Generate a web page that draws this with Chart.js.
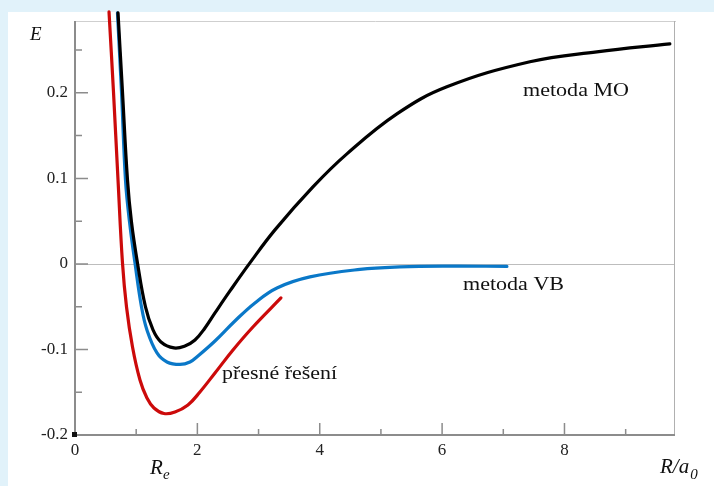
<!DOCTYPE html>
<html>
<head>
<meta charset="utf-8">
<script src="https://cdn.jsdelivr.net/npm/chart.js@4/dist/chart.umd.min.js"></script>
<style>
  html, body { margin: 0; padding: 0; background: #e1f2fa; }
  #wrap { position: absolute; left: 0; top: 0; width: 714px; height: 486px; }
</style>
</head>
<body>
<div id="wrap"><canvas id="c" width="714" height="486"></canvas></div>
<script>
// ---- data (R in a0, E in hartree) ----
const moR = [0.703, 0.776, 0.858, 0.923, 1.021, 1.152, 1.275, 1.405, 1.618, 1.797, 1.961, 2.124, 2.288, 2.533, 2.859, 3.268, 3.889, 4.444, 5.261, 6.078, 7.435, 8.529, 9.722];
const moE = [0.2936, 0.2012, 0.0982, 0.0491, 0.0012, -0.0503, -0.0772, -0.0912, -0.0982, -0.0959, -0.0889, -0.0749, -0.0573, -0.0316, 0.0012, 0.0398, 0.0901, 0.1287, 0.1754, 0.2070, 0.2363, 0.2480, 0.2573];

const vbR = [0.694, 0.760, 0.825, 0.891, 0.980, 1.087, 1.176, 1.340, 1.503, 1.716, 1.879, 2.010, 2.288, 2.614, 2.941, 3.301, 3.840, 4.657, 5.310, 6.127, 7.059];
const vbE = [0.2936, 0.2012, 0.0982, 0.0491, 0.0012, -0.0503, -0.0772, -0.1041, -0.1146, -0.1175, -0.1146, -0.1076, -0.0901, -0.0667, -0.0456, -0.0281, -0.0152, -0.0064, -0.0035, -0.0026, -0.0029];

const exR = [0.556, 0.629, 0.703, 0.776, 0.842, 0.940, 1.062, 1.176, 1.291, 1.454, 1.634, 1.846, 2.042, 2.288, 2.582, 2.908, 3.366];
const exE = [0.2947, 0.2012, 0.0982, 0.0012, -0.0503, -0.0971, -0.1357, -0.1567, -0.1684, -0.1749, -0.1731, -0.1649, -0.1497, -0.1275, -0.1006, -0.0737, -0.0398];

const xMajorTicks = [2, 4, 6, 8];
const xMinorTicks = [1, 3, 5, 7, 9];
const yMajorTicks = [0.2, 0.1, 0, -0.1];
const yMinorTicks = [0.25, 0.15, 0.05, -0.05, -0.15];

const labelMO = 'metoda MO';
const labelVB = 'metoda VB';
const labelEx = 'přesné řešení';

const toPts = (xs, ys) => xs.map((x, i) => ({ x: x, y: ys[i] }));
const SERIF = "'Liberation Serif', 'Times New Roman', 'DejaVu Serif', serif";

function stretchedText(ctx, txt, x, y, targetW) {
  const w = ctx.measureText(txt).width;
  ctx.save();
  ctx.translate(x, y);
  ctx.scale(targetW / w, 1);
  ctx.fillText(txt, 0, 0);
  ctx.restore();
}

const decor = {
  id: 'decor',
  beforeDraw(chart) {
    const ctx = chart.ctx;
    ctx.save();
    ctx.fillStyle = '#e1f2fa';
    ctx.fillRect(0, 0, 714, 486);
    ctx.fillStyle = '#ffffff';
    ctx.fillRect(8, 12, 706, 474);
    ctx.restore();
  },
  beforeDatasetsDraw(chart) {
    const ctx = chart.ctx;
    const a = chart.chartArea;
    const xs = chart.scales.x, ys = chart.scales.y;
    ctx.save();
    ctx.strokeStyle = '#cfcfcf';
    ctx.lineWidth = 1;
    ctx.beginPath();
    ctx.moveTo(a.left, a.top + 0.5); ctx.lineTo(a.right + 2, a.top + 0.5);
    ctx.stroke();
    ctx.strokeStyle = '#b0b0b0';
    ctx.beginPath();
    ctx.moveTo(a.right + 0.5, a.top); ctx.lineTo(a.right + 0.5, a.bottom);
    ctx.stroke();
    const y0 = Math.round(ys.getPixelForValue(0)) + 0.5;
    ctx.strokeStyle = '#bdbdbd';
    ctx.beginPath();
    ctx.moveTo(a.left, y0); ctx.lineTo(a.right, y0);
    ctx.stroke();
    ctx.strokeStyle = '#8c8c8c';
    ctx.lineWidth = 2;
    ctx.beginPath();
    ctx.moveTo(a.left, a.top); ctx.lineTo(a.left, a.bottom);
    ctx.moveTo(a.left, a.bottom); ctx.lineTo(a.right + 1, a.bottom);
    ctx.stroke();
    ctx.lineWidth = 1.5;
    ctx.beginPath();
    yMajorTicks.forEach(v => { const p = ys.getPixelForValue(v); ctx.moveTo(a.left, p); ctx.lineTo(a.left + 13, p); });
    yMinorTicks.forEach(v => { const p = ys.getPixelForValue(v); ctx.moveTo(a.left, p); ctx.lineTo(a.left + 7, p); });
    xMajorTicks.forEach(v => { const p = xs.getPixelForValue(v); ctx.moveTo(p, a.bottom); ctx.lineTo(p, a.bottom - 12); });
    xMinorTicks.forEach(v => { const p = xs.getPixelForValue(v); ctx.moveTo(p, a.bottom); ctx.lineTo(p, a.bottom - 6); });
    ctx.stroke();
    ctx.fillStyle = '#111';
    ctx.fillRect(a.left - 3, a.bottom - 3, 5, 5);
    ctx.restore();
  },
  afterDraw(chart) {
    const ctx = chart.ctx;
    ctx.save();
    ctx.fillStyle = '#111';
    ctx.textBaseline = 'alphabetic';
    ctx.textAlign = 'left';
    ctx.font = "18px " + SERIF;
    stretchedText(ctx, labelMO, 523, 96, 106);
    stretchedText(ctx, labelVB, 463, 290, 101);
    stretchedText(ctx, labelEx, 222, 379, 115);
    ctx.font = "italic 19px " + SERIF;
    ctx.fillText('E', 30, 40);
    ctx.font = "italic 21px " + SERIF;
    ctx.fillText('R', 150, 474);
    const rx = 660;
    ctx.fillText('R/a', rx, 473);
    const w = ctx.measureText('R/a').width;
    ctx.font = "italic 15px " + SERIF;
    ctx.fillText('e', 163, 479);
    ctx.fillText('0', rx + w + 1, 479);
    ctx.restore();
  }
};

new Chart(document.getElementById('c'), {
  type: 'line',
  data: {
    datasets: [
      { label: labelMO, data: toPts(moR, moE), borderColor: '#000000', borderWidth: 3.2, order: 0 },
      { label: labelVB, data: toPts(vbR, vbE), borderColor: '#0a78c8', borderWidth: 3.2, order: 1 },
      { label: labelEx, data: toPts(exR, exE), borderColor: '#cc0a0a', borderWidth: 3.2, order: 2 }
    ]
  },
  options: {
    responsive: false,
    animation: false,
    events: [],
    layout: { padding: { left: 0, top: 21, right: 40, bottom: 0 } },
    elements: {
      point: { radius: 0 },
      line: { tension: 0.4, fill: false, borderCapStyle: 'round', borderJoinStyle: 'round' }
    },
    datasets: { line: { clip: false } },
    plugins: { legend: { display: false }, tooltip: { enabled: false } },
    scales: {
      x: {
        type: 'linear', min: 0, max: 9.79,
        grid: { display: false, drawTicks: false },
        border: { display: false },
        ticks: {
          stepSize: 1, autoSkip: false, maxRotation: 0, padding: 5,
          color: '#222', font: { family: SERIF, size: 17 },
          callback: v => (Math.abs(v - Math.round(v)) < 1e-6 && Math.round(v) % 2 === 0) ? String(Math.round(v)) : ''
        },
        afterFit: s => { s.height = 51; }
      },
      y: {
        type: 'linear', min: -0.2, max: 0.284,
        grid: { display: false, drawTicks: false },
        border: { display: false },
        ticks: {
          stepSize: 0.1, autoSkip: false, padding: 7,
          color: '#222', font: { family: SERIF, size: 17 },
          callback: v => {
            const r = Math.round(v * 10) / 10;
            if (Math.abs(v - r) > 1e-6 || Math.abs(r) > 0.25) return '';
            return r === 0 ? '0' : r.toFixed(1);
          }
        },
        afterFit: s => { s.width = 75; }
      }
    }
  },
  plugins: [decor]
});
</script>
</body>
</html>
